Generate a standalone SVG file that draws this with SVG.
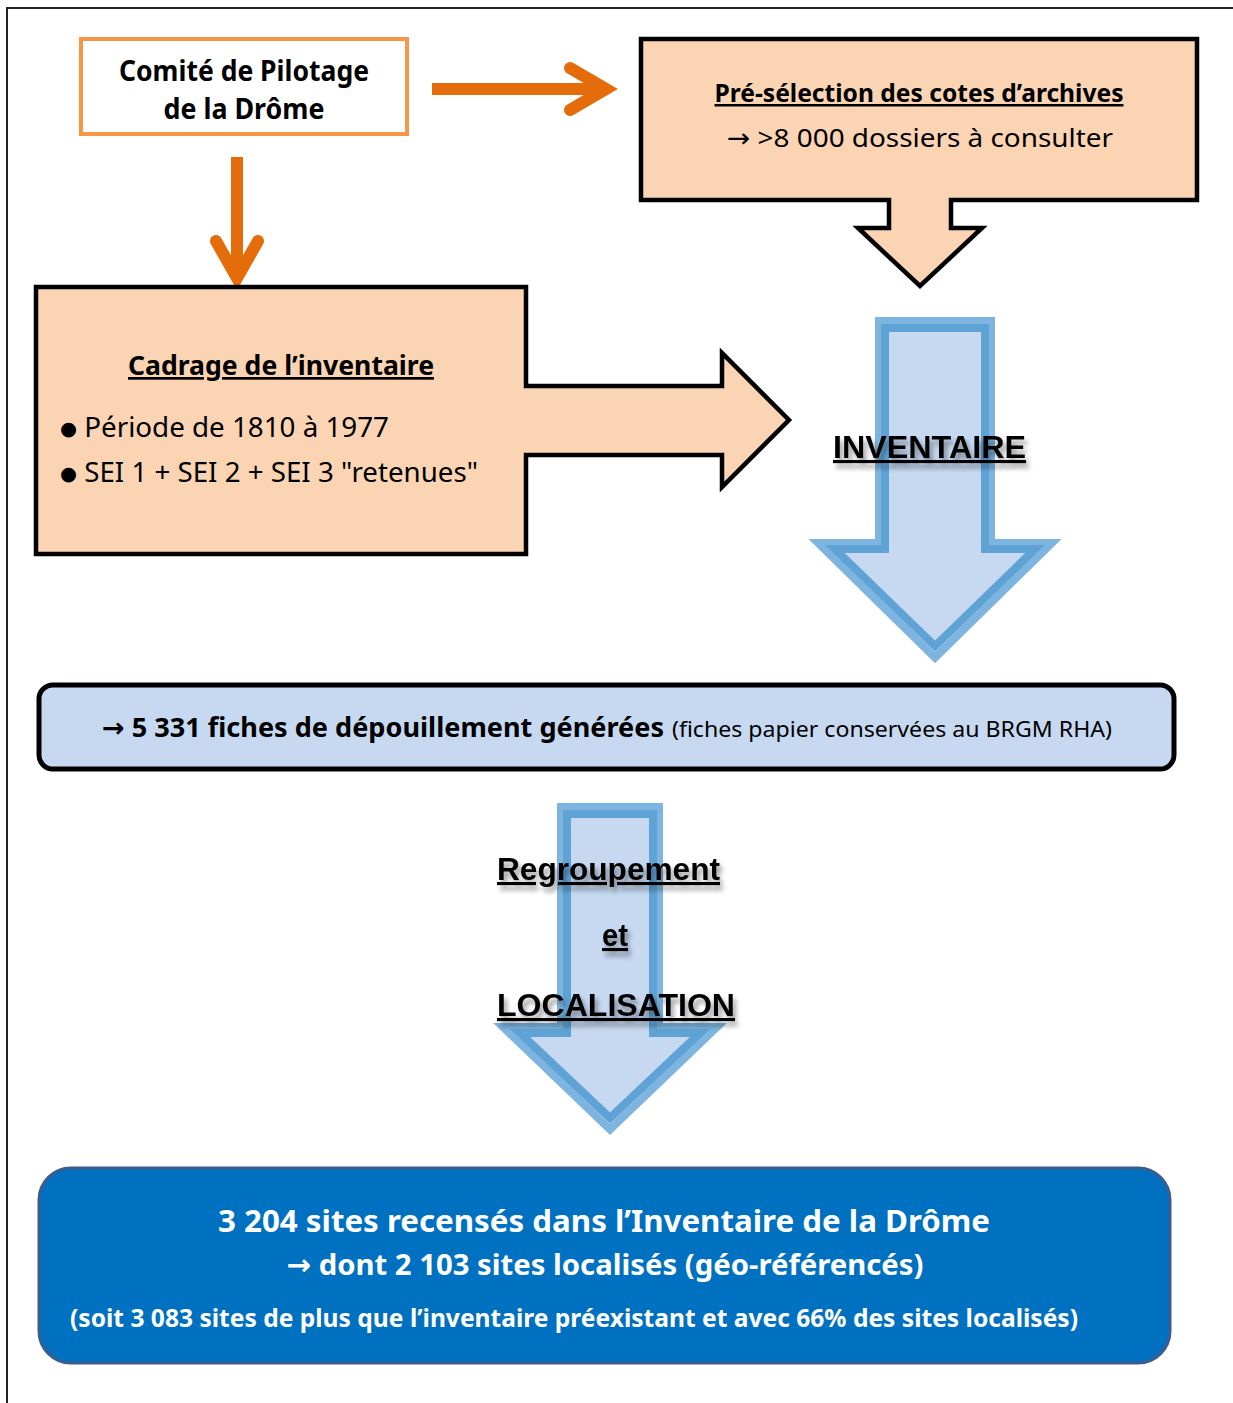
<svg xmlns="http://www.w3.org/2000/svg" width="1233" height="1403" viewBox="0 0 1233 1403">
<style>
.cal{font-family:"Noto Sans","Open Sans","DejaVu Sans",sans-serif}
.b{font-weight:bold}
.peach{fill:#FBD4B4;stroke:#000;stroke-width:4.5;stroke-linejoin:miter}
.orange{stroke:#E46C0A;stroke-width:12;fill:none}
.ar{font-family:"Liberation Sans",Arial,sans-serif;font-weight:bold;font-size:31px;text-decoration:underline;fill:#000}
.bo{fill:none;stroke:#7DB5E0;stroke-width:16;stroke-linejoin:miter}
.bf{fill:#C6D9F1;stroke:none}
.bi{fill:none;stroke:#5FA3D6;stroke-width:8;stroke-linejoin:miter}
.w{fill:#fff}
.bul{font-size:19px}
</style>
<defs>
<filter id="sh" x="-10%" y="-40%" width="130%" height="200%">
<feGaussianBlur in="SourceAlpha" stdDeviation="2.5"/>
<feOffset dx="3" dy="5" result="o"/>
<feComponentTransfer><feFuncA type="linear" slope="0.4"/></feComponentTransfer>
<feMerge><feMergeNode/><feMergeNode in="SourceGraphic"/></feMerge>
</filter>
</defs>
<rect width="1233" height="1403" fill="#fff"/>
<path d="M7,1403 V8 H1233" fill="none" stroke="#222" stroke-width="2"/>

<g id="connectors">
<line x1="432" y1="89" x2="600" y2="89" class="orange"/>
<polyline points="570,68 606,89 570,110" class="orange" stroke-linecap="round" stroke-linejoin="miter"/>
<line x1="237" y1="157" x2="237" y2="272" class="orange"/>
<polyline points="216,241 237,278 258,241" class="orange" stroke-linecap="round" stroke-linejoin="miter"/>
</g>

<g id="comite">
<rect x="81" y="39" width="326" height="95" fill="#fff" stroke="#F79646" stroke-width="4"/>
<text class="cal b" font-size="28" x="244" y="81" text-anchor="middle" textLength="250" lengthAdjust="spacingAndGlyphs">Comité de Pilotage</text>
<text class="cal b" font-size="28" x="244" y="119" text-anchor="middle" textLength="161" lengthAdjust="spacingAndGlyphs">de la Drôme</text>
</g>

<g id="preselection">
<path class="peach" d="M641,39 H1197 V200 H951 V228 H982 L920,286 L858,228 H889 V200 H641 Z"/>
<text class="cal b" font-size="25" x="919" y="102" text-anchor="middle" textLength="409" lengthAdjust="spacingAndGlyphs" text-decoration="underline">Pré-sélection des cotes d’archives</text>
<text class="cal" font-size="26" x="920" y="147" text-anchor="middle" textLength="386" lengthAdjust="spacingAndGlyphs">→ &gt;8 000 dossiers à consulter</text>
</g>

<g id="cadrage">
<path class="peach" d="M36,287 H526 V386 H722 V353 L789,420 L722,487 V455 H526 V554 H36 Z"/>
<text class="cal b" font-size="27" x="281" y="375" text-anchor="middle" textLength="306" lengthAdjust="spacingAndGlyphs" text-decoration="underline">Cadrage de l’inventaire</text>
<text class="cal" font-size="27" x="60" y="437" textLength="329" lengthAdjust="spacingAndGlyphs"><tspan class="bul" dy="-2">●</tspan><tspan dy="2"> Période de 1810 à 1977</tspan></text>
<text class="cal" font-size="27" x="60" y="482" textLength="418" lengthAdjust="spacingAndGlyphs"><tspan class="bul" dy="-2">●</tspan><tspan dy="2"> SEI 1 + SEI 2 + SEI 3 "retenues"</tspan></text>
</g>

<g id="inventaire">
<path class="bo" d="M883,325 H987 V547 H1042 L935,652 L828,547 H883 Z"/>
<path class="bf" d="M883,325 H987 V547 H1042 L935,652 L828,547 H883 Z"/>
<path class="bi" d="M885,328 H985 V549 H1035 L935,646 L835,549 H885 Z"/>
<text class="ar" x="833" y="458" textLength="193" lengthAdjust="spacingAndGlyphs" filter="url(#sh)">INVENTAIRE</text>
</g>

<g id="fiches">
<rect x="39" y="685" width="1135" height="84" rx="14" fill="#C6D9F1" stroke="#000" stroke-width="5"/>
<text class="cal b" font-size="27" x="102" y="737" textLength="562" lengthAdjust="spacingAndGlyphs">→ 5 331 fiches de dépouillement générées</text>
<text class="cal" font-size="22" x="672" y="737" textLength="440" lengthAdjust="spacingAndGlyphs">(fiches papier conservées au BRGM RHA)</text>
</g>

<g id="regroupement">
<path class="bo" d="M565,811 H655 V1031 H707 L610,1124 L513,1031 H565 Z"/>
<path class="bf" d="M565,811 H655 V1031 H707 L610,1124 L513,1031 H565 Z"/>
<path class="bi" d="M567,814 H653 V1033 H700 L610,1118 L520,1033 H567 Z"/>
<text class="ar" x="497" y="880" textLength="223" lengthAdjust="spacingAndGlyphs" filter="url(#sh)">Regroupement</text>
<text class="ar" x="602" y="946" textLength="26" lengthAdjust="spacingAndGlyphs" filter="url(#sh)">et</text>
<text class="ar" x="497" y="1016" textLength="238" lengthAdjust="spacingAndGlyphs" filter="url(#sh)">LOCALISATION</text>
</g>

<g id="sites">
<rect x="39" y="1168" width="1131" height="195" rx="32" fill="#0070C0" stroke="#3B5C8E" stroke-width="3"/>
<text class="cal b w" font-size="30" x="604" y="1232" text-anchor="middle" textLength="772" lengthAdjust="spacingAndGlyphs">3 204 sites recensés dans l’Inventaire de la Drôme</text>
<text class="cal b w" font-size="29" x="605" y="1275" text-anchor="middle" textLength="637" lengthAdjust="spacingAndGlyphs">→ dont 2 103 sites localisés (géo-référencés)</text>
<text class="cal b w" font-size="25" x="70" y="1327" textLength="1008" lengthAdjust="spacingAndGlyphs">(soit 3 083 sites de plus que l’inventaire préexistant et avec 66% des sites localisés)</text>
</g>
</svg>
